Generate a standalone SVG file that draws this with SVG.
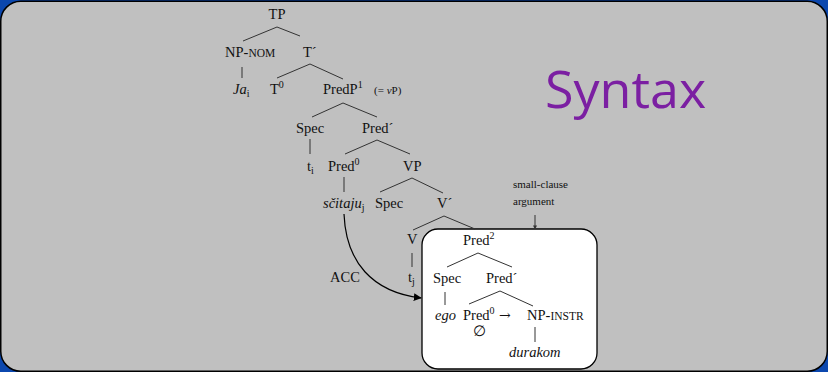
<svg xmlns="http://www.w3.org/2000/svg" width="828" height="372" viewBox="0 0 828 372">
<defs>
<style>
.t{font-family:"Liberation Serif","Times New Roman",serif;font-size:14.5px;fill:#111}
.s{font-size:10px}
.sc{font-size:11.5px}
.sm{font-family:"Liberation Serif","Times New Roman",serif;font-size:11px;fill:#111}
.i{font-style:italic}
.e{stroke:#333;stroke-width:1;fill:none}
</style>
<marker id="ah" viewBox="0 0 10 10" refX="9" refY="5" markerWidth="8" markerHeight="8" orient="auto" markerUnits="userSpaceOnUse">
<path d="M0,0 L10,5 L0,10 z" fill="#000"/>
</marker>
<marker id="ah2" viewBox="0 0 10 10" refX="9" refY="5" markerWidth="4" markerHeight="4" orient="auto" markerUnits="userSpaceOnUse">
<path d="M0,0 L10,5 L0,10 z" fill="#333"/>
</marker>
</defs>
<rect x="0" y="0" width="828" height="372" fill="#0b47ae"/>
<rect x="0.75" y="1.25" width="826.5" height="370" rx="20" fill="#c0c0c0" stroke="#000" stroke-width="1.5"/>
<text x="545" y="108" font-family="'Open Sans','DejaVu Sans',sans-serif" font-size="52" fill="#7b1fa2">Syntax</text>

<g id="box"><rect x="422" y="229" width="175" height="140" rx="16" fill="#fff" stroke="#000" stroke-width="1.3"/></g>

<g id="connectors">
<path class="e" d="M243,41 L277,27 L300,36"/>
<path class="e" d="M242,67 V78"/>
<path class="e" d="M277,78 L310,64 L343,79"/>
<path class="e" d="M312,117 L343,103 L377,117"/>
<path class="e" d="M310,139 V154"/>
<path class="e" d="M345,154 L377,140 L410,154"/>
<path class="e" d="M344,177 V192"/>
<path class="e" d="M380,192 L412,178 L443,193"/>
<path class="e" d="M413,230 L444,216 L475,229"/>
<path class="e" d="M412,253 V267"/>
<path class="e" d="M447,267 L478,253 L512,267"/>
<path class="e" d="M445,292 V305"/>
<path class="e" d="M469,304 L500,291 L533,306"/>
<path class="e" d="M535,327 V342"/>
<path d="M535,215 V229" stroke="#333" stroke-width="1" fill="none" marker-end="url(#ah2)"/>
<path d="M344,214 C346,262 372,292 421,298" stroke="#000" stroke-width="1.2" fill="none" marker-end="url(#ah)"/>
</g>

<g id="n-TP"><text class="t" x="277" y="19" text-anchor="middle">TP</text></g>
<g id="n-NPNOM"><text class="t" x="225" y="57">NP-<tspan class="sc">NOM</tspan></text></g>
<g id="n-Tbar"><text class="t" x="303" y="57">T´</text></g>
<g id="n-Ja"><text class="t" x="233" y="94"><tspan class="i">Ja</tspan><tspan class="s" dy="3">i</tspan></text></g>
<g id="n-T0"><text class="t" x="270" y="94">T<tspan class="s" dy="-6">0</tspan></text></g>
<g id="n-PredP"><text class="t" x="323" y="94">PredP<tspan class="s" dy="-6">1</tspan></text></g>
<g id="n-vP"><text class="sm" x="374" y="94">(= <tspan class="i">v</tspan>P)</text></g>
<g id="n-Spec1"><text class="t" x="296" y="133">Spec</text></g>
<g id="n-Predbar1"><text class="t" x="362" y="133">Pred´</text></g>
<g id="n-ti"><text class="t" x="307" y="171">t<tspan class="s" dy="3">i</tspan></text></g>
<g id="n-Pred0a"><text class="t" x="328" y="171">Pred<tspan class="s" dy="-6">0</tspan></text></g>
<g id="n-VP"><text class="t" x="403" y="171">VP</text></g>
<g id="n-scitaju"><text class="t" x="323" y="208"><tspan class="i">sčitaju</tspan><tspan class="s" dy="3">j</tspan></text></g>
<g id="n-Spec2"><text class="t" x="375" y="208">Spec</text></g>
<g id="n-Vbar"><text class="t" x="437" y="208">V´</text></g>
<g id="n-V"><text class="t" x="407" y="244">V</text></g>
<g id="n-tj"><text class="t" x="408" y="282">t<tspan class="s" dy="3">j</tspan></text></g>
<g id="n-ACC"><text class="t" x="330" y="282">ACC</text></g>
<g id="n-sc"><text class="sm" x="513" y="188">small-clause</text><text class="sm" x="513" y="205">argument</text></g>
<g id="n-Pred2"><text class="t" x="463" y="245">Pred<tspan class="s" dy="-6">2</tspan></text></g>
<g id="n-Spec3"><text class="t" x="433" y="283">Spec</text></g>
<g id="n-Predbar2"><text class="t" x="486" y="283">Pred´</text></g>
<g id="n-ego"><text class="t i" x="435" y="320">ego</text></g>
<g id="n-Pred0b"><text class="t" x="463" y="320">Pred<tspan class="s" dy="-6">0</tspan></text></g>
<g id="n-arrow"><text x="499" y="320" font-family="'DejaVu Serif','Liberation Serif',serif" font-size="14" fill="#111">→</text></g>
<g id="n-NPINSTR"><text class="t" x="527" y="320">NP-<tspan class="sc">INSTR</tspan></text></g>
<g id="n-empty"><text class="t" x="479" y="336" text-anchor="middle">∅</text></g>
<g id="n-durakom"><text class="t i" x="509" y="357">durakom</text></g>
</svg>
